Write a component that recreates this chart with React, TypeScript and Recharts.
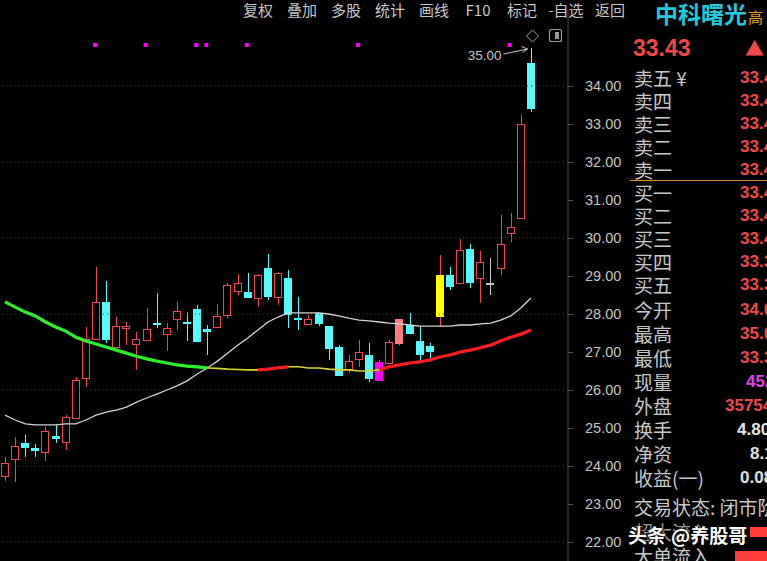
import React from 'react';
import { ComposedChart, Bar, Line, XAxis, YAxis, ReferenceLine } from 'recharts';

// ---- daily candles (prices, CNY) ----
const opens = [23.74, 24.18, 24.61, 24.47, 24.37, 24.79, 24.63, 25.26, 26.32, 27.34,
  28.32, 27.13, 27.63, 27.21, 27.32, 27.76, 27.47, 27.87, 27.79, 28.13,
  27.61, 27.66, 27.97, 28.60, 28.58, 28.42, 29.21, 28.45, 28.95, 27.89,
  27.74, 28.03, 27.68, 27.13, 26.55, 26.82, 26.92, 26.74, 26.71, 27.24,
  27.71, 27.29, 27.16, 27.95, 29.03, 28.82, 29.71, 28.95, 28.82, 29.21,
  30.13, 30.52, 34.61];
const highs = [24.24, 24.76, 24.82, 24.58, 25.03, 25.08, 25.34, 26.34, 27.66, 29.24,
  28.87, 27.92, 27.79, 27.53, 28.16, 28.55, 27.76, 28.32, 28.05, 28.24,
  27.71, 28.26, 28.82, 29.05, 29.08, 29.05, 29.58, 29.10, 29.16, 28.45,
  27.97, 28.03, 27.68, 27.18, 26.92, 27.32, 27.24, 26.79, 27.32, 27.87,
  28.03, 27.68, 27.24, 29.55, 29.24, 29.97, 29.84, 29.66, 29.47, 30.61,
  30.66, 33.24, 35.00];
const lows = [23.61, 23.58, 24.24, 24.24, 24.13, 24.61, 24.42, 25.24, 26.08, 27.32,
  27.24, 27.11, 27.18, 26.53, 27.32, 27.63, 27.03, 27.58, 27.29, 27.26,
  26.92, 27.66, 27.89, 28.50, 28.42, 28.18, 28.37, 28.24, 27.63, 27.58,
  27.74, 27.68, 26.79, 26.37, 26.45, 26.61, 26.21, 26.24, 26.71, 27.18,
  27.47, 26.71, 26.74, 27.66, 28.63, 28.82, 28.68, 28.29, 28.50, 29.03,
  29.89, 30.52, 33.32];
const closes = [24.08, 24.53, 24.50, 24.42, 24.92, 24.74, 25.29, 26.26, 27.34, 28.32,
  27.34, 27.68, 27.68, 27.34, 27.61, 27.74, 27.63, 28.08, 27.76, 27.29,
  27.55, 27.95, 28.76, 28.82, 28.45, 29.03, 28.47, 29.08, 28.00, 27.87,
  27.87, 27.76, 27.11, 26.39, 26.76, 27.00, 26.32, 26.26, 27.26, 27.87,
  27.50, 26.95, 27.03, 29.03, 28.74, 29.68, 28.84, 29.37, 28.82, 29.84,
  30.29, 33.00, 33.43];

// ---- moving averages ----
const maLong = [28.32, 28.18, 28.05, 27.95, 27.79, 27.66, 27.55, 27.39, 27.29, 27.21,
  27.13, 27.05, 26.97, 26.89, 26.82, 26.76, 26.71, 26.66, 26.63, 26.61,
  26.58, 26.57, 26.55, 26.54, 26.53, 26.53, 26.55, 26.58, 26.61, 26.61,
  26.58, 26.58, 26.55, 26.53, 26.53, 26.50, 26.50, 26.53, 26.61, 26.66,
  26.71, 26.74, 26.79, 26.87, 26.92, 27.00, 27.05, 27.11, 27.18, 27.29,
  27.39, 27.47, 27.58];
const maMid = [25.34, 25.21, 25.11, 25.08, 25.08, 25.08, 25.11, 25.11, 25.21, 25.34,
  25.42, 25.47, 25.55, 25.68, 25.79, 25.89, 26.00, 26.11, 26.24, 26.42,
  26.58, 26.76, 26.97, 27.18, 27.37, 27.58, 27.79, 27.92, 28.03, 28.03,
  28.03, 28.03, 28.00, 27.95, 27.89, 27.84, 27.82, 27.79, 27.76, 27.74,
  27.71, 27.68, 27.68, 27.68, 27.68, 27.71, 27.71, 27.74, 27.76, 27.84,
  27.95, 28.16, 28.42];
const maLongTrend = [
  { from: 0, to: 20, trend: 'fall' },
  { from: 20, to: 25, trend: 'flat' },
  { from: 25, to: 28, trend: 'rise' },
  { from: 28, to: 37, trend: 'flat' },
  { from: 37, to: 52, trend: 'rise' },
];

// ---- signals ----
const signalDays = [9, 14, 19, 20, 24, 35, 50];
const signalLevel = 35.08;
const specialCandles = [
  { day: 37, tag: 'dip' },
  { day: 39, tag: 'turn' },
  { day: 43, tag: 'breakout' },
];

const priceTicks = [22, 23, 24, 25, 26, 27, 28, 29, 30, 31, 32, 33, 34];
const gridLevels = [22, 24, 26, 28, 30, 32, 34];

// ---- panel text ----
const menuItems = ['复权', '叠加', '多股', '统计', '画线', 'F10', '标记', '-自选', '返回'];
const stockName = '中科曙光';
const lastPrice = '33.43';
const askLabels = ['卖五', '卖四', '卖三', '卖二', '卖一'];
const askPrices = ['33.48', '33.47', '33.46', '33.45', '33.44'];
const bidLabels = ['买一', '买二', '买三', '买四', '买五'];
const bidPrices = ['33.43', '33.42', '33.40', '33.39', '33.38'];
const statLabels = ['今开', '最高', '最低', '现量', '外盘', '换手', '净资', '收益(一)'];
const statValues = ['34.05', '35.00', '33.30', '4521', '35754', '4.80%', '8.13', '0.08'];
const tradeStatus = '交易状态: 闭市阶段';
const flowLabels = ['超大流入', '大单流入'];
const watermark = ['头条', '@养股哥'];

const maxHigh = Math.max(...highs);
const table = opens.map((open, i) => {
  const row: any = {
    day: i + 1,
    open,
    high: highs[i],
    low: lows[i],
    close: closes[i],
    maMid: maMid[i],
    sig: signalDays.includes(i) ? signalLevel : null,
    tag: (specialCandles.find((s) => s.day === i) || {}).tag || null,
    peak: highs[i] === maxHigh,
  };
  ['fall', 'flat', 'rise'].forEach((t) => {
    row['ma_' + t] = maLongTrend.some((s) => s.trend === t && i >= s.from && i <= s.to) ? maLong[i] : null;
  });
  return row;
});

const RED = '#f04848';
const CYAN = '#55fbfb';

const CandleShape = (props: any) => {
  const { x, y, width, height, payload } = props;
  if (!payload || payload.high == null) return <g />;
  const top = Math.min(y, y + height);
  const h = Math.abs(height);
  const { open, close, high, low, tag, peak } = payload;
  const k = h / (high - low || 1);
  const py = (v: number) => top + (high - v) * k;
  const cx = Math.round(x + width / 2) + 0.5;
  const left = Math.round(x) + 0.5;
  const w = Math.round(width) - 1;
  const bTop = Math.round(py(Math.max(open, close))) + 0.5;
  const bBot = Math.round(py(Math.min(open, close))) + 0.5;
  const bh = Math.max(1, bBot - bTop);
  const yH = py(high);
  const yL = py(low);
  const parts: any[] = [];
  if (tag || close < open || close === open) {
    let body = CYAN;
    let wick = CYAN;
    if (tag === 'breakout') { body = '#ffff00'; wick = RED; }
    else if (tag === 'dip') { body = '#ff00ff'; wick = '#ff00ff'; }
    else if (tag === 'turn') { body = '#ff7c7c'; wick = '#ff7c7c'; }
    else if (close === open) { body = '#c8c8c8'; wick = '#c8c8c8'; }
    parts.push(<line key="w" x1={cx} x2={cx} y1={yH} y2={yL} stroke={wick} strokeWidth={1} />);
    parts.push(<rect key="b" x={left} y={bTop} width={w} height={bh} fill={body} stroke={body} strokeWidth={1} />);
  } else {
    parts.push(<line key="w1" x1={cx} x2={cx} y1={yH} y2={bTop} stroke={RED} strokeWidth={1} />);
    parts.push(<line key="w2" x1={cx} x2={cx} y1={bBot} y2={yL} stroke={RED} strokeWidth={1} />);
    parts.push(<rect key="b" x={left} y={bTop} width={w} height={bh} fill="none" stroke={RED} strokeWidth={1} />);
  }
  if (peak) {
    const ax = cx - 4;
    const ay = yH + 1;
    parts.push(
      <g key="peak">
        <text x={cx - 30} y={yH + 12} textAnchor="end" fontFamily="Liberation Sans, Arial, sans-serif" fontSize={13.5} fill="#c8c8c8">
          {high.toFixed(2)}
        </text>
        <path d={`M${cx - 28},${yH + 6} L${ax},${ay}`} stroke="#c8c8c8" strokeWidth={1} fill="none" />
        <path d={`M${ax - 6},${ay - 2.5} L${ax},${ay} L${ax - 5},${ay + 3.5}`} stroke="#c8c8c8" strokeWidth={1} fill="none" />
      </g>
    );
  }
  return <g>{parts}</g>;
};

const PriceTick = (props: any) => {
  const { x, y, payload } = props;
  return (
    <g>
      <line x1={x} x2={x + 5} y1={Math.round(y) + 0.5} y2={Math.round(y) + 0.5} stroke="#555" />
      <text x={x + 17} y={y} dy={5} textAnchor="start" fontFamily="Liberation Sans, Arial, sans-serif" fontSize={14.5} fill="#c4c4c4">
        {Number(payload.value).toFixed(2)}
      </text>
    </g>
  );
};

const SignalDot = (p: any) => {
  if (p.value == null || p.cy == null || p.payload == null || p.payload.sig == null) return <g key={'s' + p.index} />;
  return <rect key={'s' + p.index} x={p.cx - 3} y={p.cy - 2} width={4} height={4} fill="#ff00ff" />;
};

const cjk = '"Noto Sans CJK SC", "Noto Sans", sans-serif';
const num = '"Liberation Sans", Arial, sans-serif';

export default function App() {
  const labelStyle: React.CSSProperties = { position: 'absolute', left: 634, fontFamily: cjk, fontSize: 19, color: '#c8c8c8', whiteSpace: 'nowrap' };
  const valStyle: React.CSSProperties = { position: 'absolute', fontFamily: num, fontSize: 17, fontWeight: 'bold', whiteSpace: 'nowrap' };
  const statLeft = [740, 740, 740, 746, 725, 737, 750, 740];
  const statColor = [RED, RED, RED, '#e040e8', RED, '#e0e0e0', '#e0e0e0', '#e0e0e0'];
  return (
    <div style={{ position: 'fixed', left: 0, top: 0, width: 767, height: 561, background: '#000', overflow: 'hidden' }}>
      <ComposedChart
        width={767}
        height={561}
        data={table}
        margin={{ top: 10, right: 0, bottom: 0, left: 0 }}
        style={{ position: 'absolute', left: 0, top: 0 }}
      >
        <XAxis dataKey="day" hide padding={{ left: 0, right: 32 }} />
        <YAxis
          orientation="right"
          width={199}
          type="number"
          domain={[21.5, 36]}
          ticks={priceTicks}
          interval={0}
          allowDataOverflow
          axisLine={{ stroke: '#4a4a4a' }}
          tickLine={false}
          tickSize={0}
          tickMargin={0}
          tick={<PriceTick />}
        />
        {gridLevels.map((v) => (
          <ReferenceLine key={v} y={v} stroke="#3c3c3c" strokeDasharray="1 3" />
        ))}
        <Line dataKey="maMid" stroke="#d4d4d4" strokeWidth={1.3} dot={false} isAnimationActive={false} />
        <Line dataKey="ma_flat" stroke="#d6d62a" strokeWidth={1.6} dot={false} isAnimationActive={false} />
        <Line dataKey="ma_fall" stroke="#2cf02c" strokeWidth={3.2} dot={false} isAnimationActive={false} />
        <Line dataKey="ma_rise" stroke="#ff1c1c" strokeWidth={3.2} dot={false} isAnimationActive={false} />
        <Bar dataKey={(d: any) => [d.low, d.high]} barSize={8} shape={<CandleShape />} isAnimationActive={false} />
        <Line dataKey="sig" stroke="none" dot={<SignalDot />} activeDot={false} isAnimationActive={false} />
      </ComposedChart>

      {/* toolbar */}
      <div style={{ position: 'absolute', left: 236, top: 0, height: 20, display: 'flex' }}>
        {menuItems.map((m) => (
          <div key={m} style={{ width: 44, textAlign: 'center', fontFamily: cjk, fontSize: 15, lineHeight: '20px', color: '#c8c8c8', whiteSpace: 'nowrap' }}>{m}</div>
        ))}
      </div>

      {/* icons */}
      <svg width={767} height={561} style={{ position: 'absolute', left: 0, top: 0, pointerEvents: 'none' }}>
        <path d="M532.5,30 L538.5,36 L532.5,42 L526.5,36 Z" stroke="#a8a8a8" fill="none" strokeWidth={1} />
        <rect x={549.5} y={29.5} width={12} height={12} rx={2} stroke="#9a9a9a" fill="none" strokeWidth={1.2} />
        <rect x={555} y={32} width={4} height={7} fill="#9a9a9a" />
        <line x1={630} x2={767} y1={180.5} y2={180.5} stroke="#d88a2c" strokeWidth={1} />
        <rect x={750} y={527} width={17} height={10} fill="#ff3c3c" />
        <rect x={735} y={551} width={32} height={10} fill="#ff3c3c" />
      </svg>

      {/* header */}
      <div style={{ position: 'absolute', left: 655, top: 0, lineHeight: '26px', fontFamily: cjk, fontSize: 23, fontWeight: 'bold', color: '#22c8dc', whiteSpace: 'nowrap' }}>{stockName}</div>
      <div style={{ position: 'absolute', left: 748, top: 7, lineHeight: '20px', fontFamily: cjk, fontSize: 15, color: '#e8a020' }}>高</div>
      <div style={{ position: 'absolute', left: 633, top: 34, lineHeight: '28px', fontFamily: num, fontSize: 23, fontWeight: 'bold', color: RED }}>{lastPrice}</div>
      <div style={{ position: 'absolute', left: 745, top: 36, lineHeight: '24px', fontFamily: cjk, fontSize: 19, color: RED }}>▲</div>

      {/* order book */}
      {askLabels.map((l, i) => (
        <React.Fragment key={l}>
          <div style={{ ...labelStyle, top: 66 + i * 23, lineHeight: '23px' }}>{l}{i === 0 ? ' ¥' : ''}</div>
          <div style={{ ...valStyle, left: 740, top: 66 + i * 23, lineHeight: '23px', color: RED }}>{askPrices[i]}</div>
        </React.Fragment>
      ))}
      {bidLabels.map((l, i) => (
        <React.Fragment key={l}>
          <div style={{ ...labelStyle, top: 181 + i * 23, lineHeight: '23px' }}>{l}</div>
          <div style={{ ...valStyle, left: 740, top: 181 + i * 23, lineHeight: '23px', color: RED }}>{bidPrices[i]}</div>
        </React.Fragment>
      ))}
      {statLabels.map((l, i) => (
        <React.Fragment key={l}>
          <div style={{ ...labelStyle, top: 298 + i * 24, lineHeight: '24px' }}>{l}</div>
          <div style={{ ...valStyle, left: statLeft[i], top: 298 + i * 24, lineHeight: '24px', color: statColor[i] }}>{statValues[i]}</div>
        </React.Fragment>
      ))}
      <div style={{ ...labelStyle, top: 495, lineHeight: '24px' }}>{tradeStatus}</div>
      <div style={{ ...labelStyle, top: 520, lineHeight: '24px', color: '#9a9a9a' }}>{flowLabels[0]}</div>
      <div style={{ ...labelStyle, top: 544, lineHeight: '24px' }}>{flowLabels[1]}</div>
      <div style={{ position: 'absolute', left: 628, top: 522, lineHeight: '26px', fontFamily: cjk, fontSize: 19, fontWeight: 'bold', color: '#ffffff', whiteSpace: 'nowrap', textShadow: '0 0 3px #000, 1px 1px 2px #000' }}>
        {watermark[0]}<span style={{ marginLeft: 5 }}>{watermark[1]}</span>
      </div>
    </div>
  );
}
